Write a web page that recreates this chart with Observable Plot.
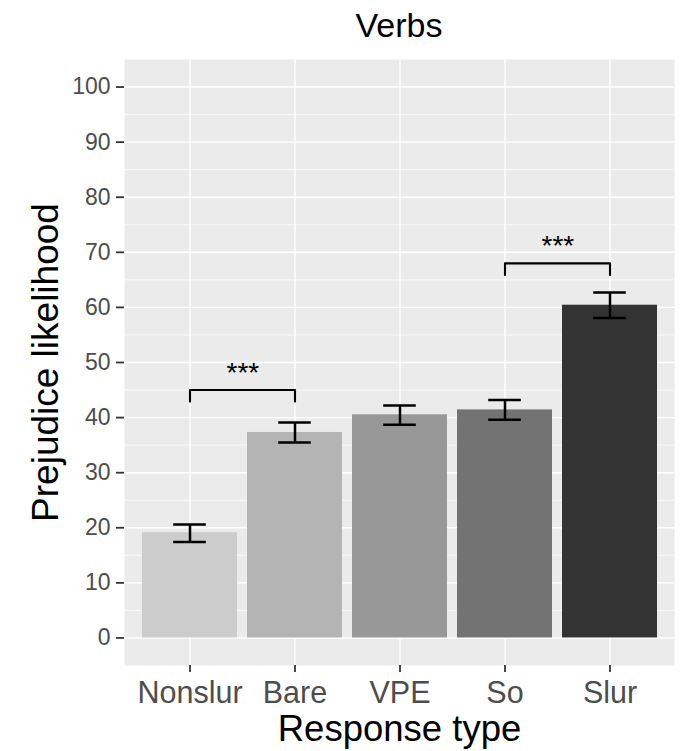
<!DOCTYPE html>
<html>
<head>
<meta charset="utf-8">
<script src="https://cdn.jsdelivr.net/npm/d3@7"></script>
<script src="https://cdn.jsdelivr.net/npm/@observablehq/plot@0.6"></script>
<style>
  html, body { margin: 0; padding: 0; background: #ffffff; }
  body { width: 680px; height: 751px; overflow: hidden; font-family: "Liberation Sans", Arial, sans-serif; }
  #title { height: 59px; margin-left: 124px; width: 550px; text-align: center; font-size: 34px; line-height: 46px; padding-top: 2px; box-sizing: border-box; color: #000; }
</style>
</head>
<body>
<div id="title">Verbs</div>
<div id="chart"></div>
<script>
// ---- data ----
const categories = ["Nonslur", "Bare", "VPE", "So", "Slur"];
const means = [19.1, 37.3, 40.5, 41.4, 60.4];
const lower = [17.4, 35.5, 38.7, 39.6, 58.1];
const upper = [20.6, 39.1, 42.2, 43.2, 62.7];
const fills = ["#CCCCCC", "#B4B4B4", "#989898", "#737373", "#333333"];

const sigFrom = ["Nonslur", "So"];
const sigTo = ["Bare", "Slur"];
const sigY = [45, 68];
const sigTip = [42.9, 65.9];
const sigLabel = ["***", "***"];

const yMajor = [0, 10, 20, 30, 40, 50, 60, 70, 80, 90, 100];
const yMinor = [5, 15, 25, 35, 45, 55, 65, 75, 85, 95];

// ---- derived tables ----
const table = categories.map((c, i) => ({type: c, mean: means[i], lo: lower[i], hi: upper[i]}));
const bracketPts = [];
sigFrom.forEach((f, i) => {
  bracketPts.push({id: i, x: f, y: sigTip[i]});
  bracketPts.push({id: i, x: f, y: sigY[i]});
  bracketPts.push({id: i, x: sigTo[i], y: sigY[i]});
  bracketPts.push({id: i, x: sigTo[i], y: sigTip[i]});
});
const sigTable = sigFrom.map((f, i) => ({from: f, y: sigY[i] + 3.1, label: sigLabel[i]}));

const W = 680, H = 692, mL = 124, mR = 6, mT = 0, mB = 86;
const padInner = 0.1, padOuter = 0.15;
const step = (W - mL - mR) / (categories.length - padInner + 2 * padOuter);
const bandwidth = step * (1 - padInner);
const capInset = (bandwidth - step * 0.31) / 2;

const chart = Plot.plot({
  width: W,
  height: H,
  marginLeft: mL,
  marginRight: mR,
  marginTop: mT,
  marginBottom: mB,
  style: {fontFamily: "'Liberation Sans', Arial, sans-serif", background: "#ffffff", overflow: "visible"},
  x: {type: "band", domain: categories, paddingInner: padInner, paddingOuter: padOuter, align: 0.5},
  y: {domain: [-5, 105]},
  color: {domain: categories, range: fills},
  marks: [
    Plot.frame({fill: "#EBEBEB", stroke: null}),
    Plot.ruleY(yMinor, {stroke: "#ffffff", strokeWidth: 0.7}),
    Plot.ruleY(yMajor, {stroke: "#ffffff", strokeWidth: 1.4}),
    Plot.ruleX(categories, {x: d => d, stroke: "#ffffff", strokeWidth: 1.4}),
    Plot.barY(table, {x: "type", y: "mean", fill: "type"}),
    Plot.ruleX(table, {x: "type", y1: "lo", y2: "hi", stroke: "#000000", strokeWidth: 2.5}),
    Plot.tickY(table, {x: "type", y: "lo", stroke: "#000000", strokeWidth: 2.5, insetLeft: capInset, insetRight: capInset}),
    Plot.tickY(table, {x: "type", y: "hi", stroke: "#000000", strokeWidth: 2.5, insetLeft: capInset, insetRight: capInset}),
    Plot.line(bracketPts, {x: "x", y: "y", z: "id", stroke: "#000000", strokeWidth: 2.1, curve: "linear"}),
    Plot.text(sigTable, {x: "from", y: "y", text: "label", dx: step / 2, fontSize: 28, fill: "#000000"}),
    Plot.axisY({ticks: yMajor, tickSize: 8, tickPadding: 6, fontSize: 23, fill: "#4D4D4D", stroke: "#333333", strokeWidth: 1.8, label: null}),
    Plot.axisX({tickSize: 7, tickPadding: 9, fontSize: 30.5, fill: "#4D4D4D", stroke: "#333333", strokeWidth: 1.8, label: null}),
    Plot.text(["Response type"], {frameAnchor: "bottom", lineAnchor: "middle", textAnchor: "middle", dy: 64, fontSize: 36.5, fill: "#000000"}),
    Plot.text(["Prejudice likelihood"], {frameAnchor: "left", lineAnchor: "middle", textAnchor: "middle", rotate: -90, dx: -78, fontSize: 37, fill: "#000000"})
  ]
});
document.getElementById("chart").appendChild(chart);
</script>
</body>
</html>
